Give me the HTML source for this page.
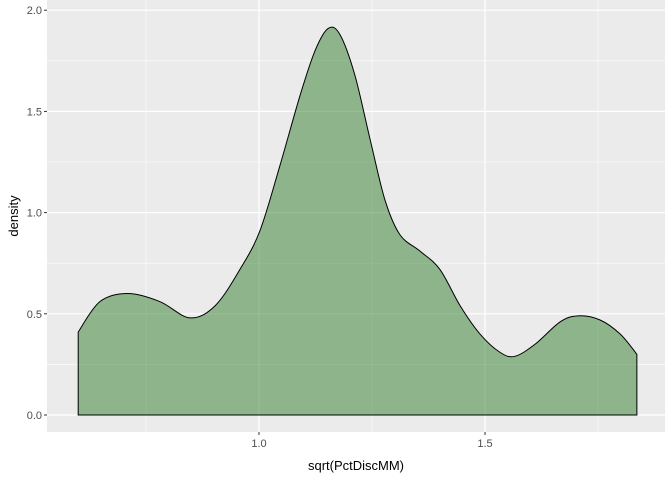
<!DOCTYPE html>
<html><head><meta charset="utf-8"><style>
body{margin:0;background:#fff;font-family:"Liberation Sans",sans-serif}
svg{display:block}
</style></head><body>
<svg id="chart" width="672" height="480" xmlns="http://www.w3.org/2000/svg">
<rect x="47" y="0" width="618" height="432" fill="#EBEBEB"/>
<g id="grid"></g>
<g id="marks"></g>
<g id="axes"></g>
<text x="356" y="470" text-anchor="middle" font-size="13" fill="#000">sqrt(PctDiscMM)</text>
<text transform="translate(18,216) rotate(-90)" text-anchor="middle" font-size="13" fill="#000">density</text>
</svg>
<script>
const xVals=[0.600,0.648,0.710,0.781,0.847,0.903,0.958,1.002,1.046,1.091,1.124,1.153,1.179,1.212,1.246,1.279,1.312,1.356,1.400,1.445,1.489,1.533,1.566,1.611,1.666,1.706,1.754,1.799,1.836];
const densityVals=[0.41,0.56,0.60,0.56,0.48,0.54,0.72,0.91,1.23,1.58,1.80,1.91,1.88,1.68,1.36,1.06,0.89,0.81,0.72,0.54,0.40,0.31,0.29,0.35,0.46,0.49,0.47,0.40,0.30];
const xTicks=[1.0,1.5];
const xTickLabels=["1.0","1.5"];
const xMinor=[0.75,1.25,1.75];
const yTicks=[0,0.5,1.0,1.5,2.0];
const yTickLabels=["0.0","0.5","1.0","1.5","2.0"];
const yMinor=[0.25,0.75,1.25,1.75];
const X=v=>259+(v-1)*452;
const Y=v=>415-v*202.4;
const NS="http://www.w3.org/2000/svg";
function mk(t,a,p){const e=document.createElementNS(NS,t);for(const k in a)e.setAttribute(k,a[k]);p.appendChild(e);return e;}
const grid=document.getElementById('grid'),axes=document.getElementById('axes'),marks=document.getElementById('marks');
yMinor.forEach(v=>{const l=mk('line',{x1:47,x2:665,y1:Y(v),y2:Y(v),stroke:'#fff','stroke-width':0.6},grid);

});
xMinor.forEach(v=>{const l=mk('line',{x1:X(v),x2:X(v),y1:0,y2:432,stroke:'#fff','stroke-width':0.6},grid);

});
yTicks.forEach((v,i)=>{const l=mk('line',{x1:47,x2:665,y1:Y(v),y2:Y(v),stroke:'#fff','stroke-width':1.2},grid);


const t=mk('line',{x1:44,x2:47,y1:Y(v),y2:Y(v),stroke:'#333','stroke-width':1},axes);


const tx=mk('text',{x:42,y:Y(v)+4,'text-anchor':'end','font-size':11,fill:'#4D4D4D'},axes);tx.textContent=yTickLabels[i];

});
xTicks.forEach((v,i)=>{const l=mk('line',{x1:X(v),x2:X(v),y1:0,y2:432,stroke:'#fff','stroke-width':1.2},grid);


const t=mk('line',{x1:X(v),x2:X(v),y1:432,y2:435,stroke:'#333','stroke-width':1},axes);


const tx=mk('text',{x:X(v),y:447,'text-anchor':'middle','font-size':11,fill:'#4D4D4D'},axes);tx.textContent=xTickLabels[i];

});
const P=xVals.map((x,i)=>[X(x),Y(densityVals[i])]);
let d=`M${X(xVals[0])},${Y(0)} L${P[0][0]},${P[0][1]}`;
for(let i=0;i<P.length-1;i++){const p0=P[Math.max(i-1,0)],p1=P[i],p2=P[i+1],p3=P[Math.min(i+2,P.length-1)];
d+=` C${p1[0]+(p2[0]-p0[0])/6},${p1[1]+(p2[1]-p0[1])/6} ${p2[0]-(p3[0]-p1[0])/6},${p2[1]-(p3[1]-p1[1])/6} ${p2[0]},${p2[1]}`;}
d+=` L${X(xVals[xVals.length-1])},${Y(0)} Z`;
const a=mk('path',{d:d,fill:'#2F7D2B','fill-opacity':0.5,stroke:'#000','stroke-width':1},marks);


</script>
</body></html>
